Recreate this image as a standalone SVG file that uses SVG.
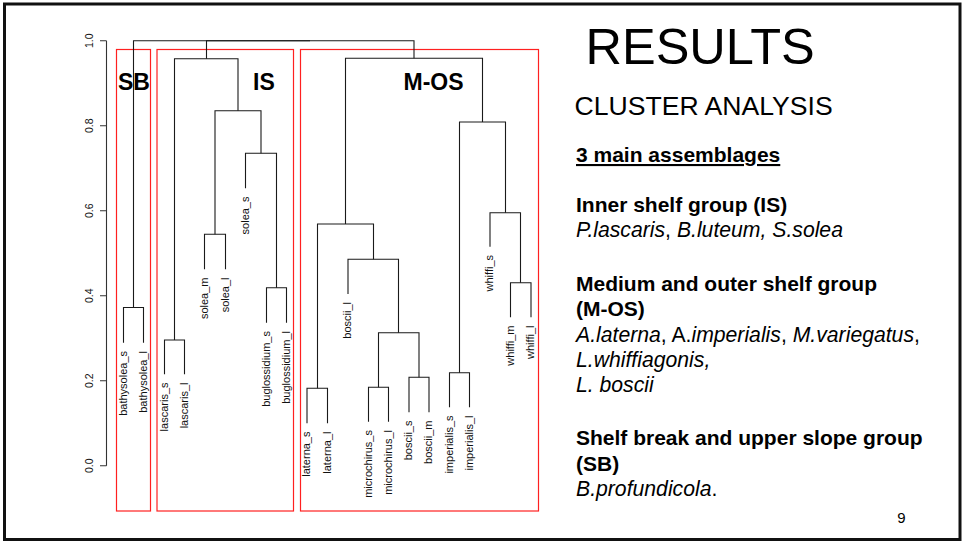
<svg xmlns="http://www.w3.org/2000/svg" width="962" height="542" viewBox="0 0 962 542">
<style>
.frame{fill:#fff;stroke:#111;stroke-width:3}
.box{fill:none;stroke:#ff2020;stroke-width:1.2}
.dl{fill:none;stroke:#1a1a1a;stroke-width:1.1}
.ax{fill:none;stroke:#333;stroke-width:1.1}
.lf{font-family:"Liberation Sans",Arial,sans-serif;font-size:11px;fill:#111;text-anchor:end}
.at{font-family:"Liberation Sans",Arial,sans-serif;font-size:10.5px;fill:#111;text-anchor:middle}
.cl{font-family:"Liberation Sans",Arial,sans-serif;font-size:23px;font-weight:bold;fill:#000}
.t{font-family:"Liberation Sans",Arial,sans-serif;fill:#000}
.b{font-weight:bold;font-size:21px}
.i{font-style:italic;font-size:21.2px}
.n{font-style:normal}
</style>
<rect class="frame" x="4.5" y="4" width="955.5" height="535.5"/>

<g id="axis">
<path class="ax" d="M106.5 40.7V465.7M100 40.7H106.5M100 125.7H106.5M100 210.7H106.5M100 295.7H106.5M100 380.7H106.5M100 465.7H106.5"/>
<text class="at" transform="translate(93 40.7) rotate(-90)">1.0</text>
<text class="at" transform="translate(93 125.7) rotate(-90)">0.8</text>
<text class="at" transform="translate(93 210.7) rotate(-90)">0.6</text>
<text class="at" transform="translate(93 295.7) rotate(-90)">0.4</text>
<text class="at" transform="translate(93 380.7) rotate(-90)">0.2</text>
<text class="at" transform="translate(93 465.7) rotate(-90)">0.0</text>
</g>

<g id="cluster-SB">
<rect class="box" x="116.5" y="49.5" width="34" height="461.5"/>
<text class="cl" x="118" y="90">SB</text>
</g>
<g id="cluster-IS">
<rect class="box" x="157" y="49.5" width="136.5" height="461.5"/>
<text class="cl" x="253" y="90">IS</text>
</g>
<g id="cluster-MOS">
<rect class="box" x="300.5" y="49.5" width="238" height="461.5"/>
<text class="cl" x="403.5" y="90">M-OS</text>
</g>

<g id="connectors">
<path class="dl" d="M123.5 342.7V307.5H143.5V342.7"/>
<path class="dl" d="M164.5 374.3V340H184.5V374.3"/>
<path class="dl" d="M204.5 269.3V234.3H225.5V269.3"/>
<path class="dl" d="M266.5 322.7V287.7H286.5V322.7"/>
<path class="dl" d="M245.5 188.3V153.3H276.5V287.7"/>
<path class="dl" d="M215 234.3V110.7H261V153.3"/>
<path class="dl" d="M174.5 340V58.7H238V110.7"/>
<path class="dl" d="M307 423.3V388.3H327.5V423.3"/>
<path class="dl" d="M368.5 421.7V387.3H388.5V421.7"/>
<path class="dl" d="M409 412.3V377.3H429V412.3"/>
<path class="dl" d="M378.5 387.3V332.7H419V377.3"/>
<path class="dl" d="M348 294V259.3H398.5V332.7"/>
<path class="dl" d="M317.5 388.3V224H373.5V259.3"/>
<path class="dl" d="M449.5 407.3V372.7H469.5V407.3"/>
<path class="dl" d="M510.5 317.3V282.7H531V317.3"/>
<path class="dl" d="M490 246.7V212.7H520.5V282.7"/>
<path class="dl" d="M459.5 372.7V122H505.5V212.7"/>
<path class="dl" d="M345.5 224V58.3H482.5V122"/>
<path class="dl" d="M206.5 58.7V40.7H414V58.3"/>
<path class="dl" d="M133.5 307.5V40.7H310"/>
</g>

<g id="leaves">
<text class="lf" transform="translate(126.5 351) rotate(-90)">bathysolea_s</text>
<text class="lf" transform="translate(146.5 351) rotate(-90)">bathysolea_l</text>
<text class="lf" transform="translate(167.5 382.5) rotate(-90)">lascaris_s</text>
<text class="lf" transform="translate(187.5 382.5) rotate(-90)">lascaris_l</text>
<text class="lf" transform="translate(207.5 277.5) rotate(-90)">solea_m</text>
<text class="lf" transform="translate(228.5 277.5) rotate(-90)">solea_l</text>
<text class="lf" transform="translate(248.5 196.5) rotate(-90)">solea_s</text>
<text class="lf" transform="translate(269.5 331) rotate(-90)">buglossidium_s</text>
<text class="lf" transform="translate(289.5 331) rotate(-90)">buglossidium_l</text>
<text class="lf" transform="translate(310 431.5) rotate(-90)">laterna_s</text>
<text class="lf" transform="translate(330.5 431.5) rotate(-90)">laterna_l</text>
<text class="lf" transform="translate(351 302) rotate(-90)">boscii_l</text>
<text class="lf" transform="translate(371.5 430) rotate(-90)">microchirus_s</text>
<text class="lf" transform="translate(391.5 430) rotate(-90)">microchirus_l</text>
<text class="lf" transform="translate(412 420.5) rotate(-90)">boscii_s</text>
<text class="lf" transform="translate(432 420.5) rotate(-90)">boscii_m</text>
<text class="lf" transform="translate(452.5 415.5) rotate(-90)">imperialis_s</text>
<text class="lf" transform="translate(472.5 415.5) rotate(-90)">imperialis_l</text>
<text class="lf" transform="translate(493 255) rotate(-90)">whiffi_s</text>
<text class="lf" transform="translate(513.5 325.5) rotate(-90)">whiffi_m</text>
<text class="lf" transform="translate(534 325.5) rotate(-90)">whiffi_l</text>
</g>

<g id="text-panel">
<text class="t" x="585.5" y="64" font-size="50.5">RESULTS</text>
<text class="t" x="574.5" y="115" font-size="26.6">CLUSTER ANALYSIS</text>
<text class="t" x="576" y="162" font-size="21" font-weight="bold" text-decoration="underline">3 main assemblages</text>
<text class="t b" x="576" y="212">Inner shelf group (IS)</text>
<text class="t i" x="576" y="237">P.lascaris<tspan class="n">,</tspan> B.luteum, S.solea</text>
<text class="t b" x="576" y="291">Medium and outer shelf group</text>
<text class="t b" x="576" y="316">(M-OS)</text>
<text class="t i" x="576" y="341.5">A.laterna<tspan class="n">, A.</tspan>imperialis<tspan class="n">, </tspan>M.variegatus<tspan class="n">,</tspan></text>
<text class="t i" x="576" y="366.5">L.whiffiagonis,</text>
<text class="t i" x="576" y="392">L. boscii</text>
<text class="t b" x="576" y="445">Shelf break and upper slope group</text>
<text class="t b" x="576" y="470.5">(SB)</text>
<text class="t i" x="576" y="496">B.profundicola<tspan class="n">.</tspan></text>
<text class="t" x="901.5" y="523" font-size="15" fill="#8a8a8a" text-anchor="middle">9</text>
</g>
</svg>
